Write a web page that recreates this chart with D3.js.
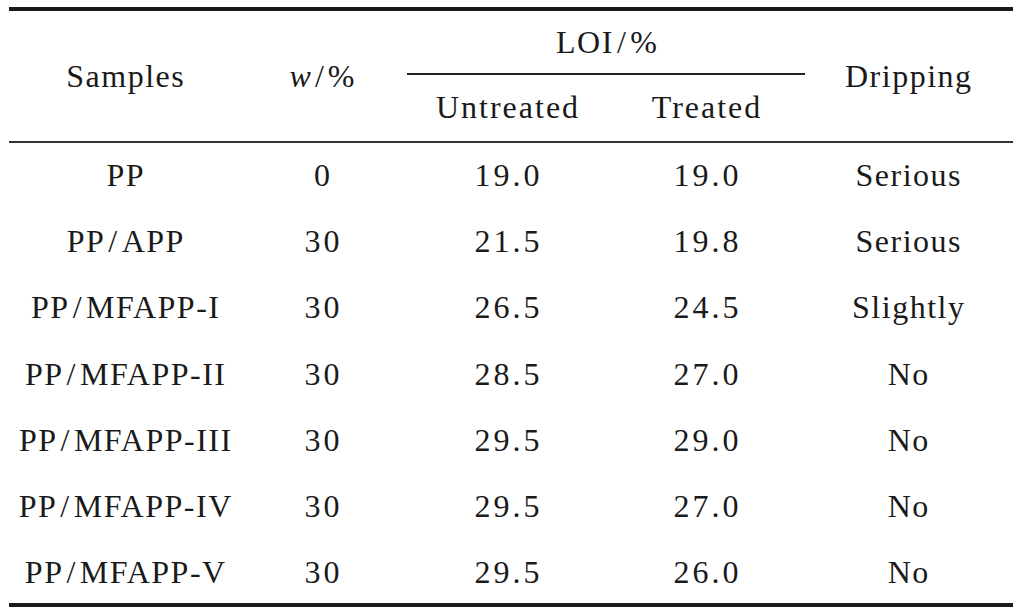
<!DOCTYPE html>
<html><head><meta charset="utf-8">
<script src="https://cdn.jsdelivr.net/npm/d3@7"></script>
<style>html,body{margin:0;padding:0;background:#fff;}</style>
</head><body>
<script>
const samples = ["PP","PP/APP","PP/MFAPP-I","PP/MFAPP-II","PP/MFAPP-III","PP/MFAPP-IV","PP/MFAPP-V"];
const wContent = ["0","30","30","30","30","30","30"];
const loiUntreated = [19.0,21.5,26.5,28.5,29.5,29.5,29.5];
const loiTreated = [19.0,19.8,24.5,27.0,29.0,27.0,26.0];
const dripping = ["Serious","Serious","Slightly","No","No","No","No"];
const columns = ["Samples","w/%","Untreated","Treated","Dripping"];
const groupHeader = "LOI/%";

const W = 1024, H = 608;
const svg = d3.select("body").append("svg").attr("width", W).attr("height", H);
const font = "'Liberation Serif', 'DejaVu Serif', serif";
const fs = 32;

const xc = {"Samples":125,"w/%":322,"Untreated":507,"Treated":706,"Dripping":908};
const y = d3.scalePoint().domain(samples).range([175, 572]);

// rules
svg.append("line").attr("x1",9).attr("x2",1013).attr("y1",9).attr("y2",9).attr("stroke","#1a1a1a").attr("stroke-width",4);
svg.append("line").attr("x1",9).attr("x2",1013).attr("y1",142).attr("y2",142).attr("stroke","#333").attr("stroke-width",2);
svg.append("line").attr("x1",9).attr("x2",1013).attr("y1",605).attr("y2",605).attr("stroke","#1a1a1a").attr("stroke-width",4);
svg.append("line").attr("x1",407).attr("x2",805).attr("y1",74).attr("y2",74).attr("stroke","#222").attr("stroke-width",2);

function txt(xp, yp, s, ls){
  ls = ls === undefined ? 1.5 : ls;
  const t = svg.append("text").attr("x", xp + ls/2).attr("y", yp).attr("text-anchor","middle")
    .attr("dominant-baseline","central").attr("font-family", font).attr("font-size", fs)
    .attr("letter-spacing", ls).attr("fill","#1a1a1a");
  const parts = s.split("/");
  parts.forEach((p,i)=>{
    if (i>0) t.append("tspan").attr("dx", 3).text("/");
    const sp = t.append("tspan").text(p);
    if (i>0) sp.attr("dx", 3);
  });
  return t;
}
// headers
txt(xc["Samples"], 76, "Samples");
const wt = svg.append("text").attr("x", xc["w/%"]).attr("y", 76).attr("text-anchor","middle")
  .attr("dominant-baseline","central").attr("font-family", font).attr("font-size", fs).attr("fill","#1a1a1a");
wt.append("tspan").attr("font-style","italic").text("w");
wt.append("tspan").attr("dx",4).text("/");
wt.append("tspan").attr("dx",4).text("%");
txt((xc["Untreated"]+xc["Treated"])/2, 42, groupHeader);
txt(xc["Untreated"], 107, "Untreated", 2);
txt(xc["Treated"], 107, "Treated", 2);
txt(xc["Dripping"], 76, "Dripping", 1.5);

samples.forEach((s,i)=>{
  const yy = y(s);
  txt(xc["Samples"], yy, s, 1.5);
  txt(xc["w/%"], yy, wContent[i], 3);
  txt(xc["Untreated"], yy, loiUntreated[i].toFixed(1), 3);
  txt(xc["Treated"], yy, loiTreated[i].toFixed(1), 3);
  txt(xc["Dripping"], yy, dripping[i], 1.5);
});
</script>
</body></html>
